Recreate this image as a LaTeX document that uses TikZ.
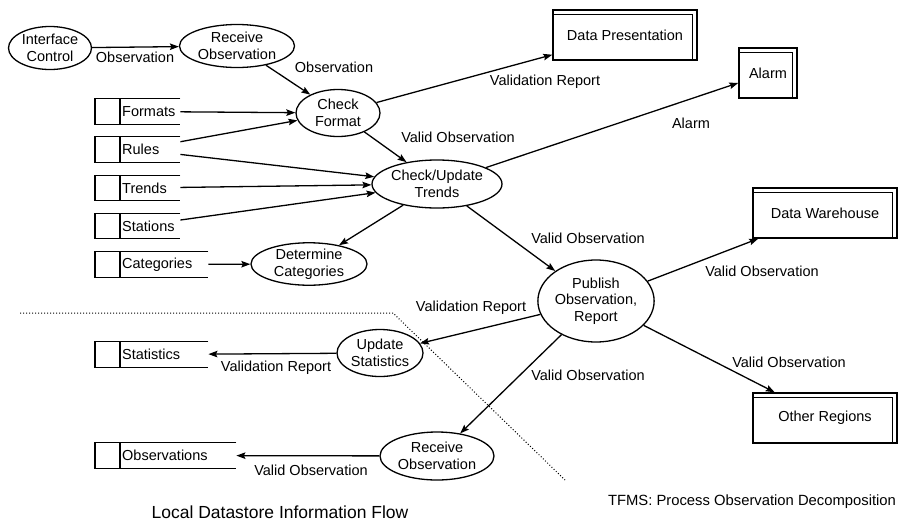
\documentclass[tikz,border=0pt]{standalone}
\usepackage{fontspec}
\setmainfont{Liberation Sans}
\usetikzlibrary{shapes.geometric,arrows.meta}

\tikzset{
    process/.style={ellipse, draw, line width=1.3pt, inner sep=0pt, align=center},
    store/.style={rectangle, inner sep=0pt, minimum height=25pt, anchor=west, text width=#1, align=left, execute at begin node={\hspace*{27pt}}},
    entity/.style={rectangle, draw, line width=1.4pt, inner sep=0pt, minimum width=144pt, minimum height=50pt},
    flow/.style={line width=1.3pt, -{Stealth[length=9pt,width=6.5pt,inset=1.5pt]}},
}

\begin{document}
\begin{tikzpicture}[x=1pt, y=-1pt, font=\fontsize{14.5}{16.5}\selectfont]
\useasboundingbox (0,0) rectangle (902,525);
% \draw[help lines, step=50] (0,0) grid (902,525);
\begin{scope}[every node/.style={process}]
    \node[minimum width=83pt, minimum height=43pt] (iface) at (50,48) {Interface\\Control};
    \node[minimum width=115pt, minimum height=43pt] (recobs) at (237,46) {Receive\\Observation};
    \node[minimum width=84pt, minimum height=47pt] (cformat) at (338,113) {Check\\Format};
    \node[minimum width=130pt, minimum height=48pt] (ctrends) at (437,184) {Check/Update\\Trends};
    \node[minimum width=116pt, minimum height=42pt] (detcat) at (309,264) {Determine\\Categories};
    \node[minimum width=116pt, minimum height=82pt] (publish) at (596,301) {Publish\\Observation,\\Report};
    \node[minimum width=86pt, minimum height=47pt] (ustats) at (380,353) {Update\\Statistics};
    \node[minimum width=114pt, minimum height=48pt] (recobsb) at (437,456) {Receive\\Observation};
\end{scope}

% local data stores, open on the right
\node[store=85pt] (formats) at (95,111.5) {Formats};
\node[store=85pt] (rules) at (95,149.5) {Rules};
\node[store=85pt] (trends) at (95,188) {Trends};
\node[store=85pt] (stations) at (95,226) {Stations};
\node[store=113pt] (categories) at (95,264.5) {Categories};
\node[store=113pt] (statistics) at (95,354.5) {Statistics};
\node[store=141pt] (observations) at (95,455.5) {Observations};

% external entities
\node[entity] (datapres) at (625,35) {Data Presentation};
\node[entity, minimum width=58pt] (alarm) at (768,73) {Alarm};
\node[entity] (warehouse) at (825,213) {Data Warehouse};
\node[entity] (others) at (825,418) {Other Regions};

\foreach \s in {formats, rules, trends, stations, categories, statistics, observations}
    \draw[line width=1.3pt] (\s.north east) -- (\s.north west) -- (\s.south west) -- (\s.south east)
        ([xshift=25pt]\s.north west) -- ([xshift=25pt]\s.south west);
\foreach \ent in {datapres, alarm, warehouse, others}
    \draw[line width=1.1pt] ([yshift=-5pt]\ent.north west) -- ([shift={(-5pt,-5pt)}]\ent.north east) -- ([xshift=-5pt]\ent.south east);

\foreach \from/\to in {iface/recobs, recobs/cformat, formats/cformat, rules/cformat, rules/ctrends,
        trends/ctrends, stations/ctrends, categories/detcat, ctrends/detcat, cformat/datapres,
        cformat/ctrends, ctrends/alarm, ctrends/publish, publish/warehouse, publish/ustats,
        publish/recobsb, publish/others, ustats/statistics, recobsb/observations}
    \draw[flow] (\from) -- (\to);

% flow labels
\begin{scope}[every node/.style={inner sep=0pt}]
    \node (lobs1) at (135,57) {Observation};
    \node (lobs2) at (334,67) {Observation};
    \node (lvrep1) at (545,82) {Validation Report};
    \node (lvobs1) at (458,137) {Valid Observation};
    \node (lalarm) at (691,123) {Alarm};
    \node (lvobs2) at (588,238) {Valid Observation};
    \node (lvobs3) at (762,271) {Valid Observation};
    \node (lvrep2) at (471,308) {Validation Report};
    \node (lvobs4) at (588,375) {Valid Observation};
    \node (lvobs5) at (789,362) {Valid Observation};
    \node (lvrep3) at (276,368) {Validation Report};
    \node (lvobs6) at (311,470) {Valid Observation};
\end{scope}

% local datastore boundary
\draw[line width=1pt, dash pattern=on 1pt off 2pt] (20,313) -- (393,313) -- (565,480);

\node (tfms) at (752,502) {\fontsize{14.8}{17}\selectfont TFMS: Process Observation Decomposition};
\node (local) at (280,512) {\fontsize{17.5}{20}\selectfont Local Datastore Information Flow};
\end{tikzpicture}
\end{document}
